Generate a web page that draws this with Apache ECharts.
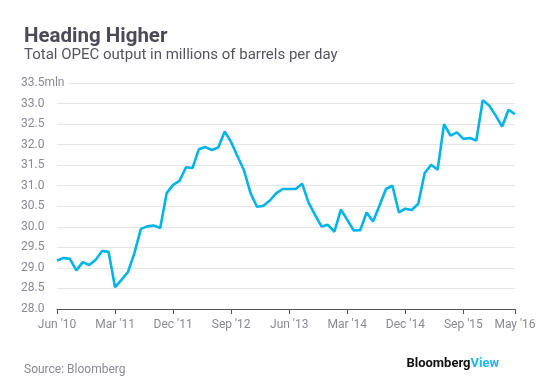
<!DOCTYPE html>
<html><head><meta charset="utf-8">
<script src="https://cdn.jsdelivr.net/npm/echarts@6/dist/echarts.min.js"></script>
<style>html,body{margin:0;padding:0;background:#fff}#c{width:557px;height:392px}</style>
</head><body><div id="c"></div>
<script>
const months = ['Jan','Feb','Mar','Apr','May','Jun','Jul','Aug','Sep','Oct','Nov','Dec'];
const startYear = 2010, startMonth = 5; // Jun 2010
const nMonths = 72;
const categories = [];
for (let i = 0; i < nMonths; i++) {
  const m = (startMonth + i) % 12;
  const y = startYear + Math.floor((startMonth + i) / 12);
  categories.push(months[m] + " '" + String(y).slice(2));
}
const opecOutput = [
  29.18, 29.24, 29.22, 28.94, 29.14, 29.07, 29.20, 29.41, 29.39, 28.53,
  28.71, 28.90, 29.36, 29.95, 30.01, 30.03, 29.97, 30.82, 31.02, 31.12,
  31.45, 31.43, 31.89, 31.94, 31.87, 31.93, 32.32, 32.06, 31.71, 31.37,
  30.82, 30.49, 30.51, 30.64, 30.82, 30.92, 30.92, 30.92, 31.05, 30.59,
  30.29, 30.01, 30.05, 29.88, 30.42, 30.17, 29.91, 29.92, 30.35, 30.13,
  30.52, 30.92, 31.00, 30.35, 30.44, 30.41, 30.56, 31.31, 31.51, 31.39,
  32.50, 32.22, 32.30, 32.14, 32.16, 32.10, 33.08, 32.95, 32.71, 32.44,
  32.85, 32.74
];
const yMin = 28, yMax = 33.5, yStep = 0.5;
const labelIdx = i => i % 9 === 0 || i === nMonths - 1;

const chart = echarts.init(document.getElementById('c'), null, {renderer: 'canvas'});
const font = 'Roboto, "Liberation Sans", sans-serif';
chart.setOption({
  animation: false,
  backgroundColor: '#fff',
  title: [
    {text: 'Heading Higher', left: 19, top: 21, textStyle: {fontFamily: font, fontSize: 20.5, fontWeight: 'bold', color: '#4b4a56'}},
    {text: 'Total OPEC output in millions of barrels per day', left: 19, top: 43, textStyle: {fontFamily: font, fontSize: 15, fontWeight: 'normal', color: '#55545e'}},
    {text: 'Source: Bloomberg', left: 19, top: 359, textStyle: {fontFamily: font, fontSize: 12, fontWeight: 'normal', color: '#8a8993'}}
  ],
  graphic: [{
    type: 'text', right: 58, top: 357,
    style: {
      text: '{a|Bloomberg}{b|View}',
      rich: {
        a: {fontFamily: font, fontSize: 13, fontWeight: 'bold', fill: '#111'},
        b: {fontFamily: font, fontSize: 13, fontWeight: 'bold', fill: '#1fb6e6'}
      }
    }
  }],
  grid: {left: 57, right: 42, top: 83, bottom: 83},
  xAxis: {
    type: 'category', data: categories, boundaryGap: false,
    axisLine: {lineStyle: {color: '#55545e', width: 1}},
    axisTick: {show: true, interval: labelIdx, length: 5, lineStyle: {color: '#55545e'}},
    axisLabel: {interval: labelIdx, color: '#8a8993', fontFamily: font, fontSize: 12, margin: 10, showMaxLabel: true},
    splitLine: {show: false}
  },
  yAxis: {
    type: 'value', min: yMin, max: yMax, interval: yStep,
    axisLine: {show: false}, axisTick: {show: false},
    axisLabel: {
      align: 'left', margin: 36, color: '#8a8993', fontFamily: font, fontSize: 12,
      formatter: v => v === yMax ? '{t|' + v.toFixed(1) + 'mln}' : v.toFixed(1),
      rich: {t: {color: '#8a8993', fontFamily: font, fontSize: 12, backgroundColor: '#fff', padding: [0, 4, 0, 0]}}
    },
    splitLine: {show: true, lineStyle: {color: '#e6e6e6', width: 1}}
  },
  series: [{
    type: 'line', data: opecOutput, showSymbol: false, symbol: 'none',
    lineStyle: {color: '#00b5e6', width: 2.6}, z: 5
  }]
});
</script></body></html>
